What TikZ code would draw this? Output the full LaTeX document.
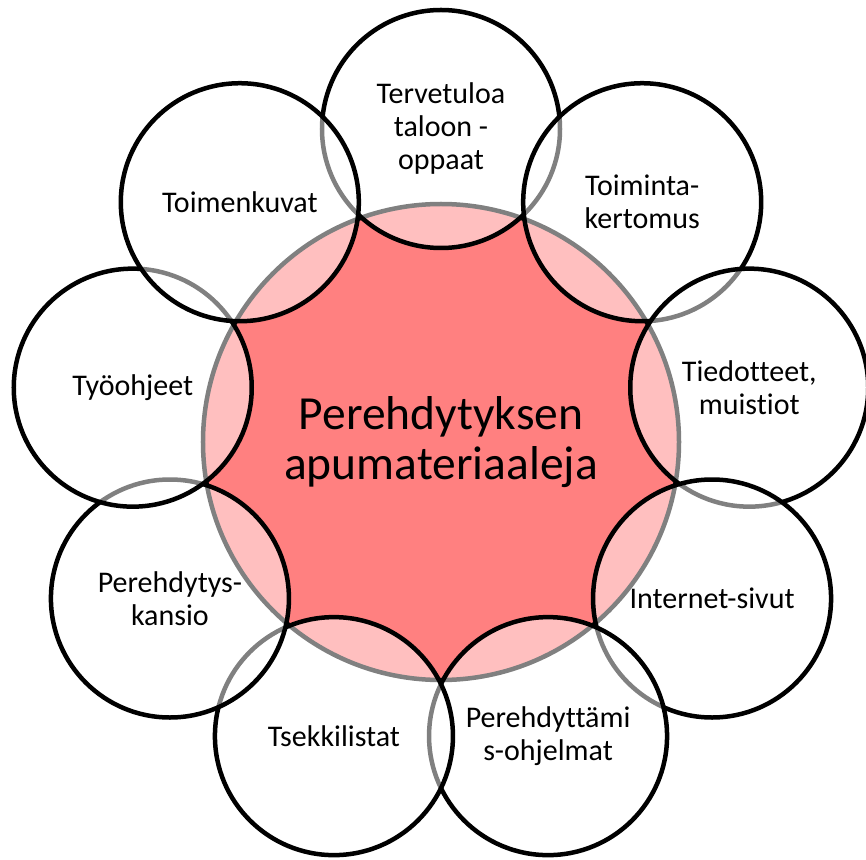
\documentclass[tikz,border=0pt]{standalone}
\usepackage{fontspec}
\setmainfont{Carlito}[Ligatures={NoCommon,NoRare,NoContextual}]
\definecolor{hubred}{RGB}{255,128,128}
\tikzset{
  hub/.style={circle,minimum size=476,inner sep=0,line width=4.5,
    draw=black,fill=hubred,align=center,
    font=\fontsize{47.5}{50}\selectfont},
  bubble/.style={circle,minimum size=238,inner sep=0,line width=4.5,
    draw=black,fill=white,fill opacity=.5,text opacity=1,align=center,
    font=\fontsize{30}{33}\selectfont},
}
\begin{document}
\begin{tikzpicture}[x=1pt,y=1pt]
  \useasboundingbox (-441,-417) rectangle (425,442);
  \node[hub] (hub) at (0,0) {Perehdytyksen\\apumateriaaleja};
  % outer ring, clockwise from the top
  \node[bubble] (tervetuloa) at (90:313) {Tervetuloa\\taloon -\\oppaat};
  \node[bubble] (toiminta) at (50:313) {Toiminta-\\kertomus};
  \node[bubble] (tiedotteet) at (10:313) {Tiedotteet,\\muistiot};
  \node[bubble] (internet) at (-30:313) {Internet-sivut};
  \node[bubble] (ohjelmat) at (-70:313) {Perehdyttämi\\s-ohjelmat};
  \node[bubble] (tsekki) at (-110:313) {Tsekkilistat};
  \node[bubble] (kansio) at (-150:313) {Perehdytys-\\kansio};
  \node[bubble] (tyoohjeet) at (170:313) {Työohjeet};
  \node[bubble] (toimenkuvat) at (130:313) {Toimenkuvat};
\end{tikzpicture}
\end{document}
